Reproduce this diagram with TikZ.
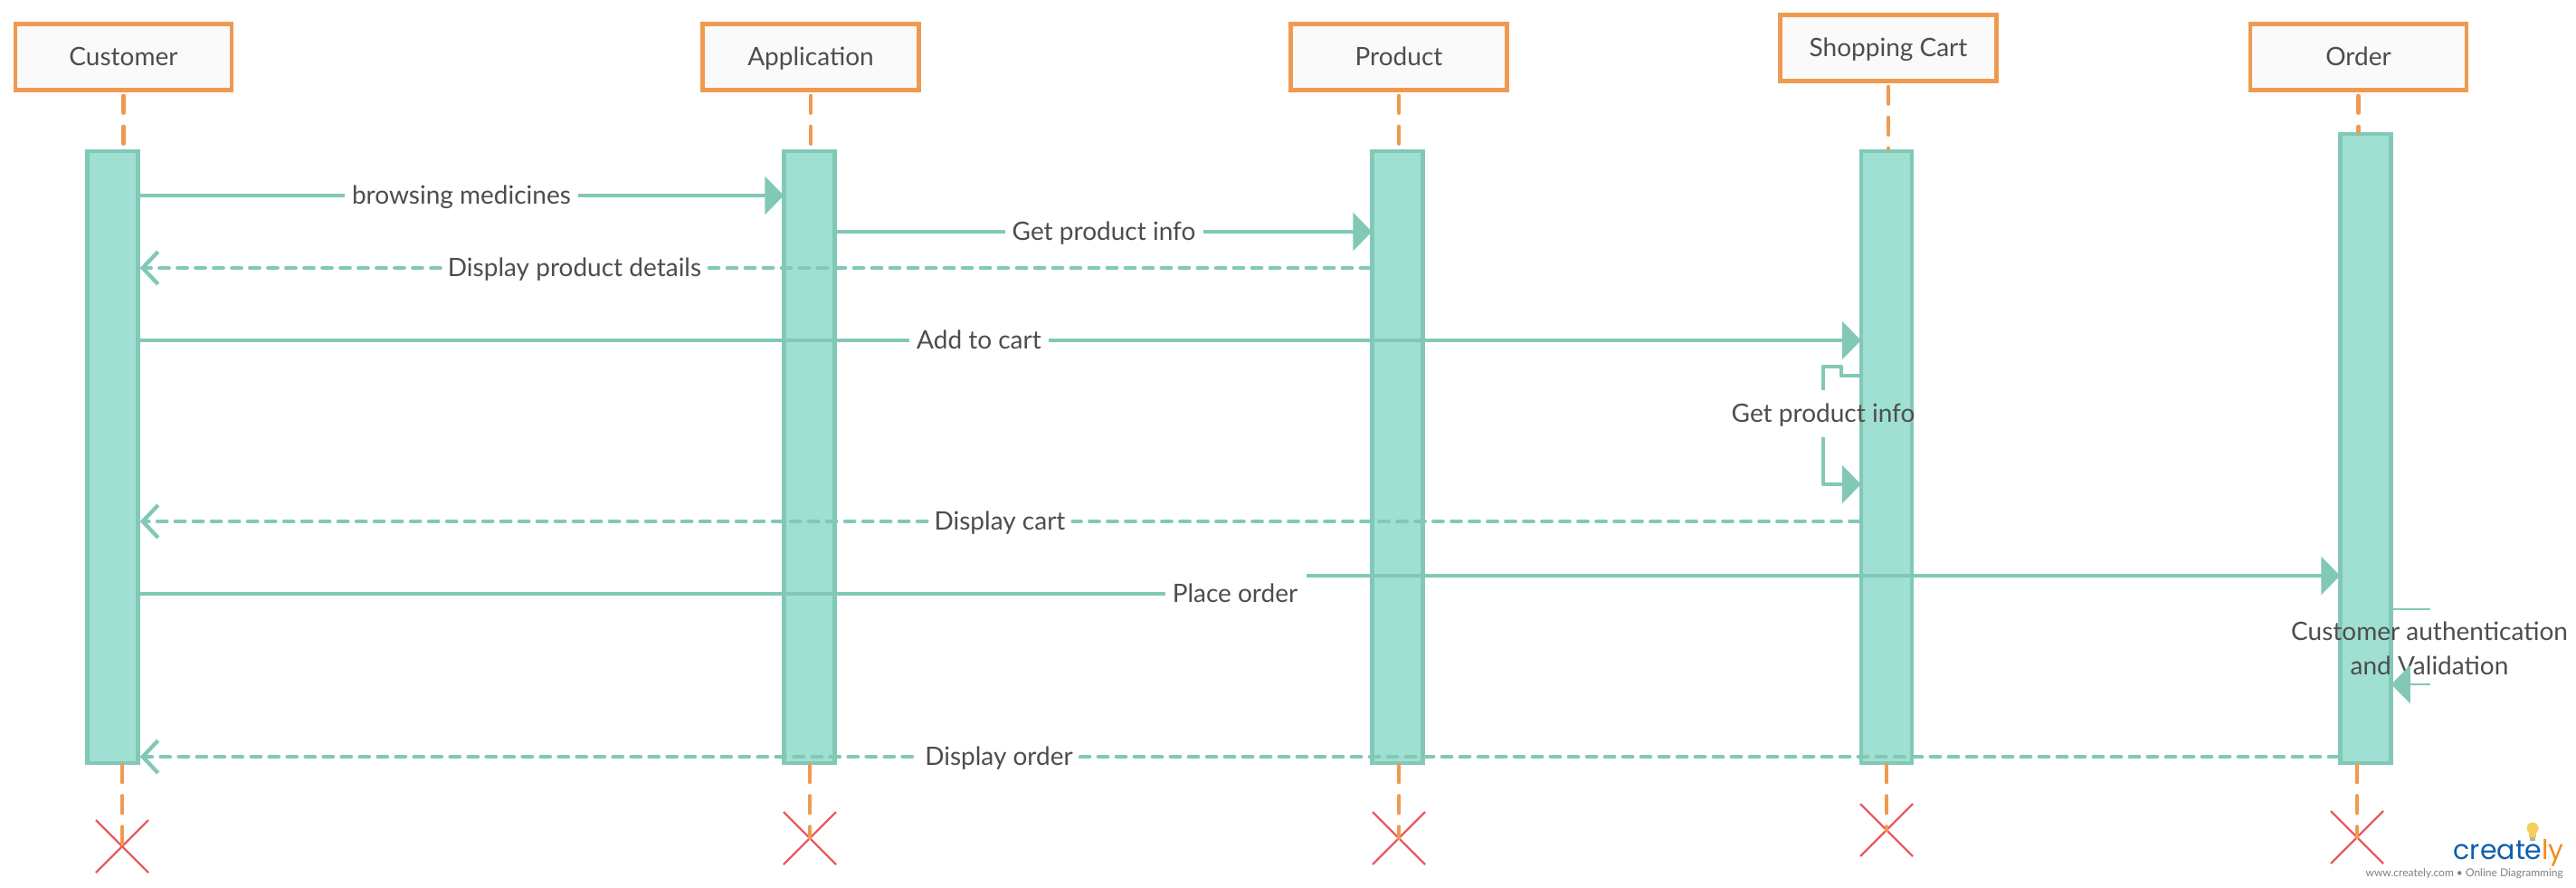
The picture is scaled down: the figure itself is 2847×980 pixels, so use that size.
\documentclass[tikz,border=0pt]{standalone}
\usepackage{fontspec}
\setmainfont{Lato}
\newfontfamily\logofont{Poppins}
\usetikzlibrary{arrows.meta}
\definecolor{orangeline}{HTML}{EF9A50}
\definecolor{boxfill}{HTML}{FAFAFA}
\definecolor{tealline}{HTML}{82C8B7}
\definecolor{tealfill}{HTML}{9FE0D2}
\definecolor{labelgrey}{HTML}{4D4D4D}
\definecolor{crossred}{HTML}{E85A62}
\definecolor{logoblue}{HTML}{0D5EAF}
\definecolor{logoorange}{HTML}{F28C1E}
\definecolor{bulb}{HTML}{F7CE5B}
\tikzset{
  x=1pt,y=-1pt,
  actor/.style={draw=orangeline,fill=boxfill,line width=4.5pt,minimum width=239pt,minimum height=73pt,inner sep=0pt,text=labelgrey,font=\fontsize{28}{34}\selectfont,text height=24pt,text depth=5pt},
  lifeline/.style={draw=orangeline,line width=4.3pt,line cap=round,dash pattern=on 19pt off 15pt},
  activation/.style={draw=tealline,fill=tealfill,line width=4.5pt,minimum width=56pt,inner sep=0pt},
  msglabel/.style={text=labelgrey,font=\fontsize{28}{38}\selectfont,inner ysep=5pt,inner xsep=8pt,text height=24pt,text depth=5pt},
  msg/.style={draw=tealline,line width=4.3pt},
  ret/.style={draw=tealline,line width=4.3pt,line cap=round,dash pattern=on 10.5pt off 9.5pt},
  solidtip/.style={-{Triangle[length=21pt,width=42pt,fill=tealline]},shorten >=-2pt},
  opentip/.style={-{Straight Barb[length=17pt,width=36pt,line width=4.3pt]}},
  crossmark/.style={draw=crossred,line width=2.4pt},
}
\newcommand{\killmark}[3]{%
  \coordinate (#1) at (#2,#3);
  \draw[crossmark] (#2-29,#3-29) -- (#2+29,#3+29) (#2-29,#3+29) -- (#2+29,#3-29);}
\begin{document}
\begin{tikzpicture}
\useasboundingbox[fill=white] (0,0) rectangle (2847,980);
% actors
\node[actor] (customer) at (136.5,63) {Customer};
\node[actor] (application) at (896,63) {Application};
\node[actor] (product) at (1546,63) {Product};
\node[actor] (cart) at (2087,53) {Shopping Cart};
\node[actor] (order) at (2606.5,63) {Order};
% activations
\node[activation,minimum height=676pt] (acust) at (124.5,505) {};
\node[activation,minimum height=676pt] (aapp) at (894.5,505) {};
\node[activation,minimum height=676pt] (aprod) at (1544.5,505) {};
\node[activation,minimum height=676pt] (acart) at (2085,505) {};
\node[activation,minimum height=695pt] (aorder) at (2614.5,495.5) {};
% kill marks
\killmark{xcust}{135}{935}
\killmark{xapp}{895}{926}
\killmark{xprod}{1546}{926}
\killmark{xcart}{2085}{917}
\killmark{xorder}{2605}{925}
% lifelines
\draw[lifeline] ([yshift=-4pt]customer.south) -- (customer.south |- acust.north);
\draw[lifeline] ([yshift=-4pt]application.south) -- (application.south |- aapp.north);
\draw[lifeline] ([yshift=-4pt]product.south) -- (product.south |- aprod.north);
\draw[lifeline] ([yshift=-4pt]cart.south) -- (cart.south |- acart.north);
\draw[lifeline] ([yshift=-4pt]order.south) -- (order.south |- aorder.north);
\draw[lifeline] (xcust |- acust.south) -- (xcust);
\draw[lifeline] (xapp |- aapp.south) -- (xapp);
\draw[lifeline] (xprod |- aprod.south) -- (xprod);
\draw[lifeline] (xcart |- acart.south) -- (xcart);
\draw[lifeline] (xorder |- aorder.south) -- (xorder);
% labels
\node[msglabel] (l1) at (510,216) {browsing medicines};
\node[msglabel] (l2) at (1220,256) {Get product info};
\node[msglabel] (l3) at (635,296) {Display product details};
\node[msglabel] (l4) at (1082,376) {Add to cart};
\node[msglabel,minimum height=52pt] (l5) at (2015,457) {Get product info};
\node[msglabel] (l6) at (1105,576) {Display cart\hspace{6pt}};
\node[msglabel] (l7) at (1365,656) {Place order};
\node[inner sep=0pt,align=center,text=labelgrey,font=\fontsize{28}{38}\selectfont] (l8) at (2685,716) {Customer authentication\\and Validation};
\node[msglabel] (l9) at (1101,836) {\hspace{6pt}Display order};
% messages
\draw[msg] (acust.east |- l1) -- (l1.west);
\draw[msg,solidtip] (l1.east) -- (aapp.west |- l1);
\draw[msg] (aapp.east |- l2) -- (l2.west);
\draw[msg,solidtip] (l2.east) -- (aprod.west |- l2);
\draw[ret] (aprod.west |- l3) -- (l3.east);
\draw[ret,opentip] (l3.west) -- (acust.east |- l3);
\draw[msg] (acust.east |- l4) -- (l4.west);
\draw[msg,solidtip] (l4.east) -- (acart.west |- l4);
% self message on the cart
\coordinate (loopa) at (acart.west |- 0,415);
\coordinate (loopb) at (acart.west |- 0,535);
\draw[msg,line join=round] (loopa) -- (2035,415) -- (2035,405) -- (l5.north |- 0,405) -- (l5.north);
\draw[msg,line join=round,solidtip] (l5.south) |- (loopb);
\draw[ret] (acart.west |- l6) -- (l6.east);
\draw[ret,opentip] (l6.west) -- (acust.east |- l6);
\draw[msg] (acust.east |- l7) -- (l7.west);
\coordinate (placeb) at (1444,636);
\draw[msg,solidtip] (placeb) -- (aorder.west |- placeb);
% self message on the order
\coordinate (authtop) at (2686,673);
\coordinate (authbot) at (2686,756);
\draw[draw=tealline,line width=1.6pt] (aorder.east |- authtop) -- (authtop);
\draw[draw=tealline,line width=1.6pt,solidtip] (authbot) -- (aorder.east |- authbot);
\draw[ret] (aorder.west |- l9) -- (l9.east);
\draw[ret,opentip] (l9.west) -- (acust.east |- l9);
% logo
\fill[bulb] (2799,915) circle (6.5pt);
\fill[bulb] (2795,917) rectangle (2803,925);
\fill[gray!60] (2796,925) rectangle (2802,929);
\node[inner sep=0pt,anchor=base east,font=\logofont\fontsize{30}{30}\selectfont] (logo) at (2834,949) {\textcolor{logoblue}{create}\textcolor{logoorange}{ly}};
\node[inner sep=0pt,anchor=base east,text=gray,font=\fontsize{12}{14}\selectfont] (tag) at (2833,968) {www.creately.com • Online Diagramming};
\end{tikzpicture}
\end{document}
